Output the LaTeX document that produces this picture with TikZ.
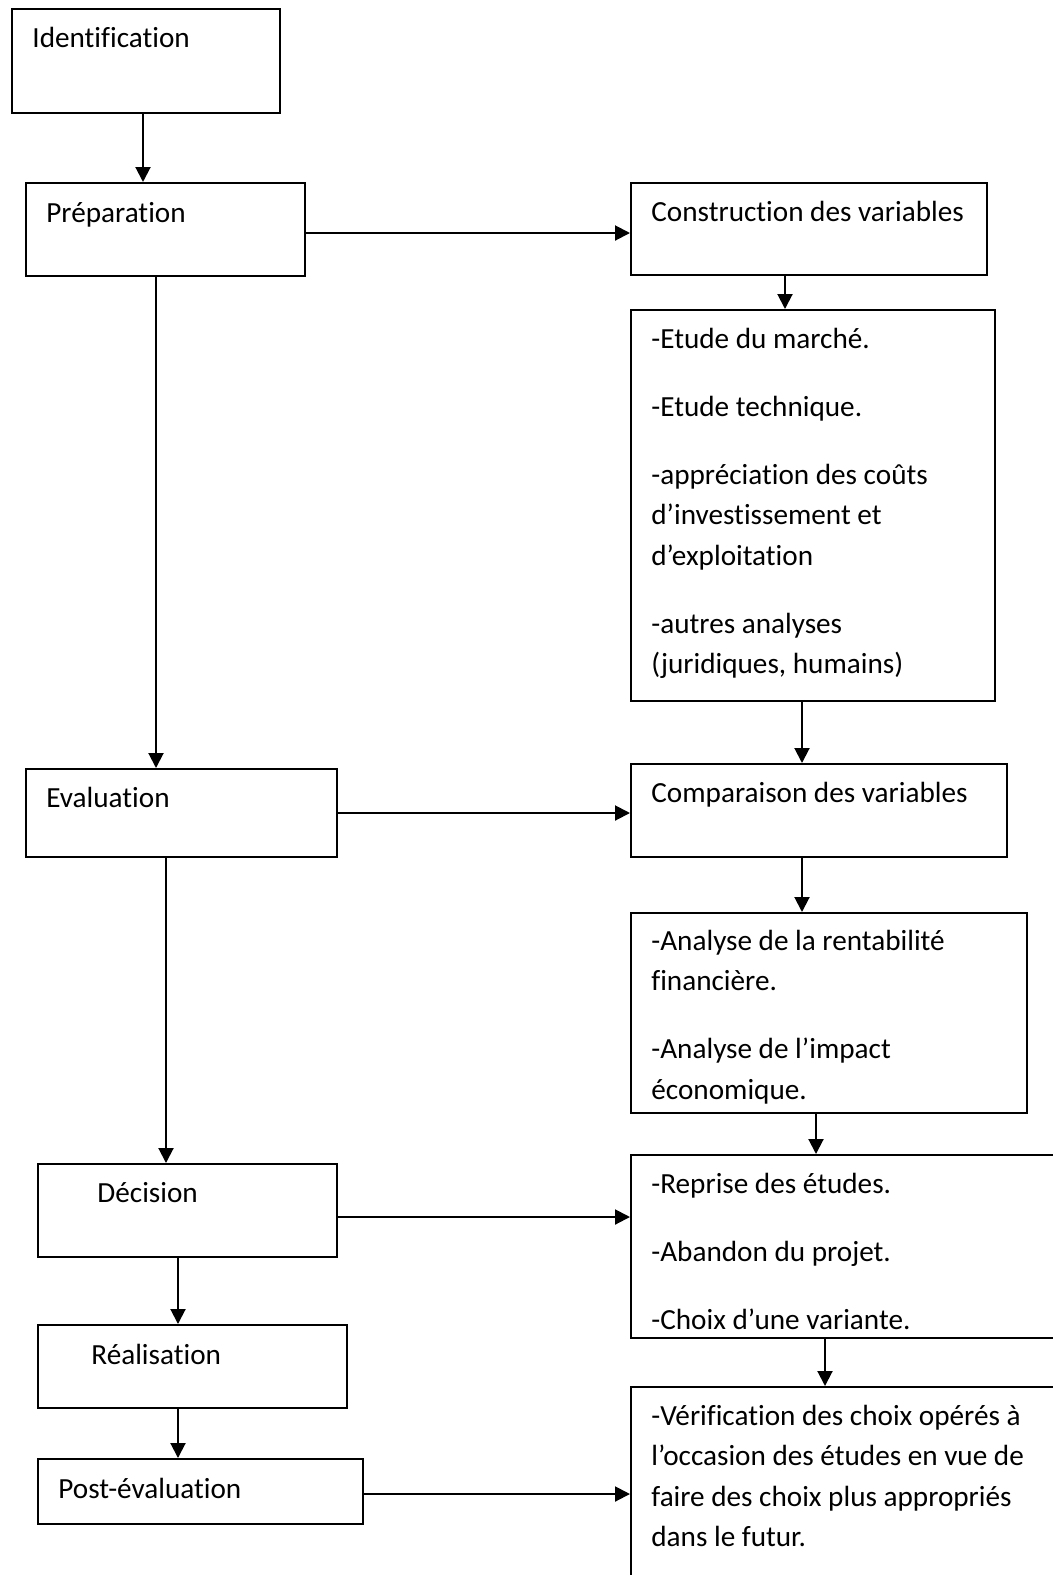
\documentclass[tikz,border=0pt]{standalone}
\usepackage{fontspec}
\setmainfont{Carlito}[Ligatures=NoCommon]
\usetikzlibrary{arrows.meta, positioning, calc}
\newcommand{\boxlines}[1]{\parbox[t]{12cm}{\raggedright #1}}

\begin{document}
\begin{tikzpicture}[
    x=0.5pt, y=-0.5pt,
    box/.style={
        rectangle, draw=black, line width=1pt, fill=white,
        inner sep=0pt, anchor=north west
    },
    boxsize/.style 2 args={minimum width=#1*0.5pt, minimum height=#2*0.5pt},
    lbl/.style={anchor=base west, inner sep=0pt, text=black,
        font=\fontsize{14.6pt}{20.3pt}\selectfont},
    arr/.style={-{Triangle[length=7.5pt, width=7.5pt]}, line width=1pt, black},
]
\useasboundingbox (0,0) rectangle (1053,1575);
\clip (0,0) rectangle (1053,1575);

% Left column
\node[box, boxsize={268}{104}] (ident) at (11,8) {};
\node[box, boxsize={279}{93}] (prep) at (25,182) {};
\node[box, boxsize={311}{88}] (eval) at (25,768) {};
\node[box, boxsize={299}{93}] (decision) at (37,1163) {};
\node[box, boxsize={309}{83}] (realis) at (37,1324) {};
\node[box, boxsize={325}{65}] (posteval) at (37,1458) {};

% Right column
\node[box, boxsize={356}{92}] (constr) at (630,182) {};
\node[box, boxsize={364}{391}] (etudes) at (630,309) {};
\node[box, boxsize={376}{93}] (compar) at (630,763) {};
\node[box, boxsize={396}{200}] (analyses) at (630,912) {};
\node[box, boxsize={440}{183}] (choix) at (630,1154) {};
\node[box, boxsize={440}{214}] (verif) at (630,1386) {};

% Texts
\node[lbl] (ident-t) at ($(ident.north west)+(21,39)$) {Identification};
\node[lbl] (prep-t) at ($(prep.north west)+(21,40)$) {Préparation};
\node[lbl] (eval-t) at ($(eval.north west)+(21,39)$) {Evaluation};
\node[lbl] (decision-t) at ($(decision.north west)+(60,39)$) {Décision};
\node[lbl] (realis-t) at ($(realis.north west)+(54,40)$) {Réalisation};
\node[lbl] (posteval-t) at ($(posteval.north west)+(21,40)$) {Post-évaluation};

\node[lbl] (constr-t) at ($(constr.north west)+(21,39)$) {Construction des variables};
\node[lbl] (etudes-t) at ($(etudes.north west)+(21,39)$) {\boxlines{%
    -Etude du marché.\\[13.7pt]
    -Etude technique.\\[13.7pt]
    -appréciation des coûts\\
    d’investissement et\\
    d’exploitation\\[13.7pt]
    -autres analyses\\
    (juridiques, humains)}};
\node[lbl] (compar-t) at ($(compar.north west)+(21,39)$) {Comparaison des variables};

% these two lists are cut off at the bottom of their box
\begin{scope}
    \clip (analyses.north west) rectangle ($(analyses.south east)+(0,-11)$);
    \node[lbl] (analyses-t) at ($(analyses.north west)+(21,38)$) {\boxlines{%
        -Analyse de la rentabilité\\
        financière.\\[13.7pt]
        -Analyse de l’impact\\
        économique.}};
\end{scope}
\begin{scope}
    \clip (choix.north west) rectangle ($(choix.south east)+(0,-10)$);
    \node[lbl] (choix-t) at ($(choix.north west)+(21,39)$) {\boxlines{%
        -Reprise des études.\\[13.7pt]
        -Abandon du projet.\\[13.7pt]
        -Choix d’une variante.}};
\end{scope}

\node[lbl] (verif-t) at ($(verif.north west)+(21,39)$) {\boxlines{%
    -Vérification des choix opérés à\\
    l’occasion des études en vue de\\
    faire des choix plus appropriés\\
    dans le futur.}};

% Arrows down the left column
\draw[arr] ([xshift=-1.5pt]ident.south) -- ([xshift=-1.5pt]ident.south |- prep.north);
\draw[arr] ([xshift=-4.75pt]prep.south) -- ([xshift=-4.75pt]prep.south |- eval.north);
\draw[arr] ([xshift=-7.75pt]eval.south) -- ([xshift=-7.75pt]eval.south |- decision.north);
\draw[arr] ([xshift=-4.75pt]decision.south) -- ([xshift=-4.75pt]decision.south |- realis.north);
\draw[arr] ([xshift=-7.25pt]realis.south) -- ([xshift=-7.25pt]realis.south |- posteval.north);

% Arrows down the right column
\draw[arr] ([xshift=-12pt]constr.south) -- ([xshift=-12pt]constr.south |- etudes.north);
\draw[arr] ([xshift=-5.5pt]etudes.south) -- ([xshift=-5.5pt]etudes.south |- compar.north);
\draw[arr] ([xshift=-8.5pt]compar.south) -- ([xshift=-8.5pt]compar.south |- analyses.north);
\draw[arr] ([xshift=-6.5pt]analyses.south) -- ([xshift=-6.5pt]analyses.south |- choix.north);
\draw[arr] ([xshift=-13pt]choix.south) -- ([xshift=-13pt]choix.south |- verif.north);

% Arrows across
\draw[arr] ([yshift=-1.75pt]prep.east) -- ([yshift=-1.75pt]prep.east -| constr.west);
\draw[arr] (eval.east) -- (eval.east -| compar.west);
\draw[arr] ([yshift=-3.25pt]decision.east) -- ([yshift=-3.25pt]decision.east -| choix.west);
\draw[arr] ([yshift=-1.25pt]posteval.east) -- ([yshift=-1.25pt]posteval.east -| verif.west);

\end{tikzpicture}
\end{document}
